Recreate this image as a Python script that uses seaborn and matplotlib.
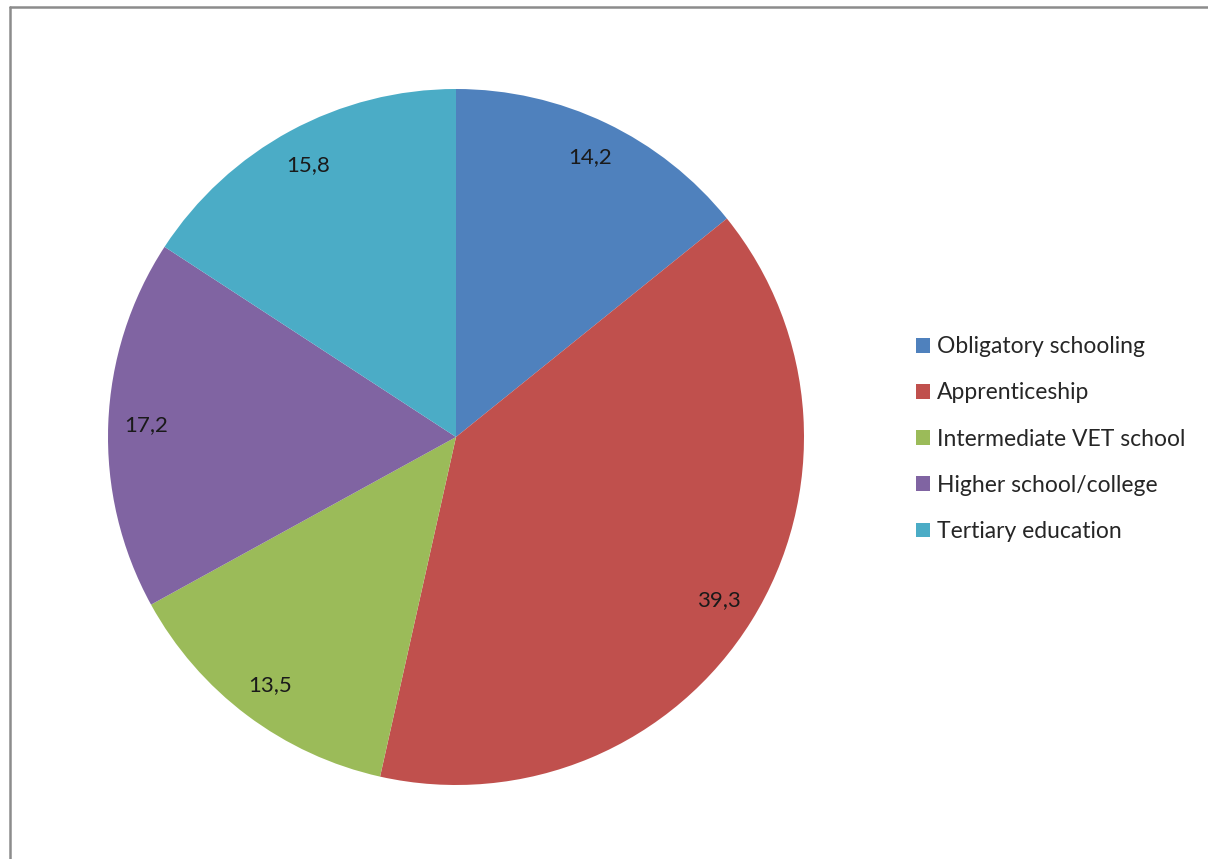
import matplotlib.pyplot as plt
import seaborn as sns
from matplotlib.lines import Line2D
from matplotlib.patches import Patch

sns.set_theme(style="white")
plt.rcParams['font.family'] = ['Lato', 'DejaVu Sans']

categories = ['Obligatory schooling', 'Apprenticeship', 'Intermediate VET school',
              'Higher school/college', 'Tertiary education']
shares = [14.2, 39.3, 13.5, 17.2, 15.8]
colors = ['#4F81BD', '#C0504D', '#9BBB59', '#8064A2', '#4BACC6']

fig = plt.figure(figsize=(12.08, 8.59), dpi=100)
ax = fig.add_axes([108 / 1208, 74 / 859, 696 / 1208, 696 / 859])

wedges, texts, autotexts = ax.pie(
    shares, colors=colors, startangle=90, counterclock=False,
    autopct=lambda p: f"{p:.1f}".replace('.', ','), pctdistance=0.89,
    wedgeprops=dict(linewidth=0),
    textprops=dict(fontsize=16, color='#1a1a1a'))
ax.set_xlim(-1, 1)
ax.set_ylim(-1, 1)
ax.set_aspect('equal')

handles = [Patch(facecolor=c, edgecolor='none') for c in colors]
fig.legend(handles, categories, loc='upper left', bbox_to_anchor=(907 / 1208, 1 - 327 / 859),
           frameon=False, fontsize=16.5, handlelength=0.62, handleheight=0.62,
           handletextpad=0.3, labelspacing=1.1, borderaxespad=0)

# outer chart-area border
fig.add_artist(Line2D([9.5 / 1208, 9.5 / 1208], [0, 1 - 7 / 859], color='#8c8c8c', lw=1.8))
fig.add_artist(Line2D([9.5 / 1208, 1], [1 - 7 / 859, 1 - 7 / 859], color='#8c8c8c', lw=1.8))

fig.savefig('out.png', dpi=100)
